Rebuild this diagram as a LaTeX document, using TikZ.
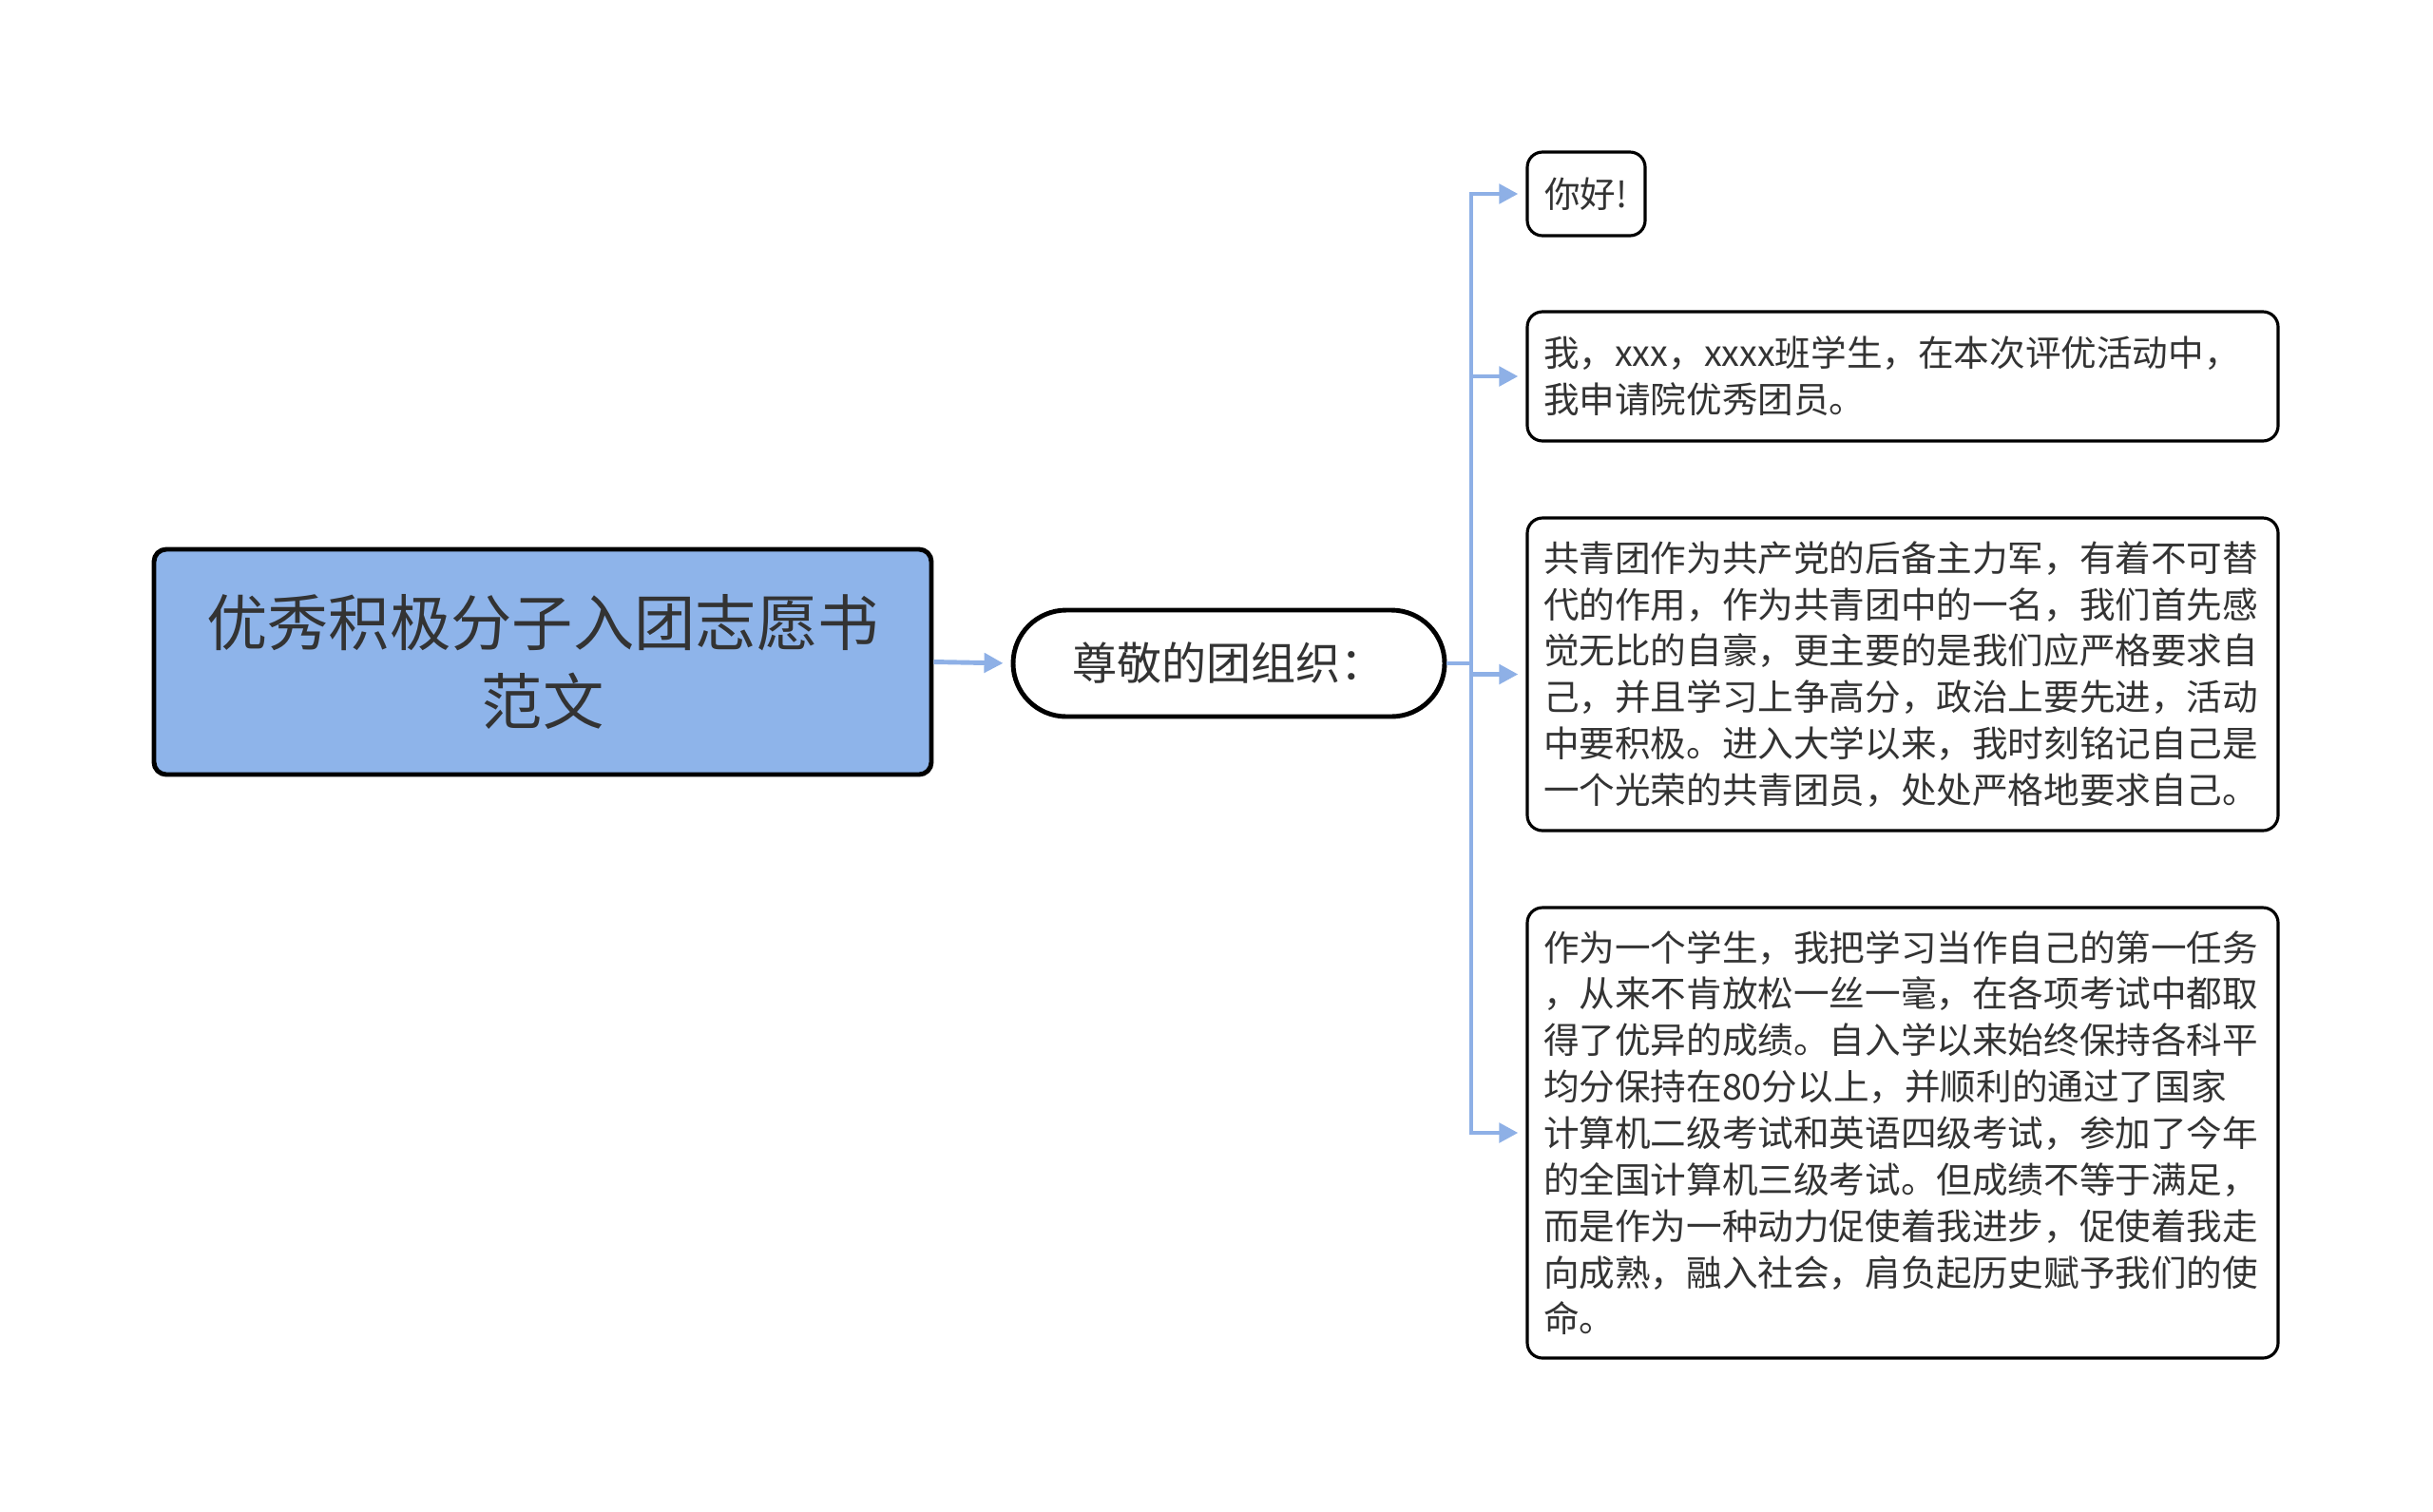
\documentclass[tikz,border=0pt]{standalone}
\usepackage{fontspec}
\newfontfamily\cjk{Noto Sans CJK SC}
\usetikzlibrary{arrows.meta,calc,positioning}
\definecolor{rootblue}{HTML}{8EB4EA}
\definecolor{linkblue}{HTML}{8EB0E6}
\definecolor{inkgray}{HTML}{333333}
\tikzset{
  rootbox/.style={draw=black,line width=1.4pt,rounded corners=0.13cm,fill=rootblue,text=inkgray,align=center,minimum width=8.18cm,minimum height=2.37cm,font=\cjk\fontsize{18.3pt}{23.6pt}\selectfont},
  midbox/.style={draw=black,line width=1.4pt,rounded corners=0.56cm,fill=white,text=inkgray,minimum width=4.54cm,minimum height=1.12cm,font=\cjk\fontsize{13.4pt}{15pt}\selectfont},
  leafbox/.style={draw=black,line width=0.9pt,rounded corners=0.16cm,fill=white,text=inkgray,align=left,inner sep=0.17cm,font=\cjk\fontsize{10.7pt}{13.9pt}\selectfont},
  link/.style={draw=linkblue,line width=1.4pt,-{Triangle[length=0.2cm,width=0.2cm]},shorten >=0.08cm}
}

\begin{document}
\begin{tikzpicture}
  \useasboundingbox (0,0) rectangle (25.6,-15.9);
  \node[rootbox] (root) at (5.71,-6.965) {优秀积极分子入团志愿书\\范文};
  \node[midbox] (greet) at (12.93,-6.98) {尊敬的团组织：};
  \node[leafbox,minimum width=1.24cm,minimum height=0.88cm] (hello) at (16.69,-2.04) {你好!};
  \node[leafbox,text width=7.56cm,minimum height=1.36cm] (apply) at (20.02,-3.96) {我，xxx，xxxx班学生，在本次评优活动中，\\我申请院优秀团员。};
  \node[leafbox,text width=7.56cm,minimum height=3.29cm] (league) at (20.02,-7.095) {共青团作为共产党的后备主力军，有着不可替\\代的作用，作为共青团中的一名，我们首先感\\觉无比的自豪，更主要的是我们应严格要求自\\己，并且学习上争高分，政治上要先进，活动\\中要积极。进入大学以来，我时刻铭记自己是\\一个光荣的共青团员，处处严格地要求自己。};
  \node[leafbox,text width=7.56cm,minimum height=4.74cm] (study) at (20.02,-11.92) {作为一个学生，我把学习当作自己的第一任务\\，从来不肯放松一丝一毫，在各项考试中都取\\得了优异的成绩。自入学以来始终保持各科平\\均分保持在80分以上，并顺利的通过了国家\\计算机二级考试和英语四级考试，参加了今年\\的全国计算机三级考试。但成绩不等于满足，\\而是作为一种动力促使着我进步，促使着我走\\向成熟，融入社会，肩负起历史赋予我们的使\\命。};
  \coordinate (bus) at (15.48,-6.98);
  \draw[link] (root.east) -- (greet.west);
  \draw[link] (greet.east) -- (bus) |- (hello.west);
  \draw[link] (bus) |- (apply.west);
  \draw[link] (bus) |- (league.west);
  \draw[link] (bus) |- (study.west);
\end{tikzpicture}
\end{document}
